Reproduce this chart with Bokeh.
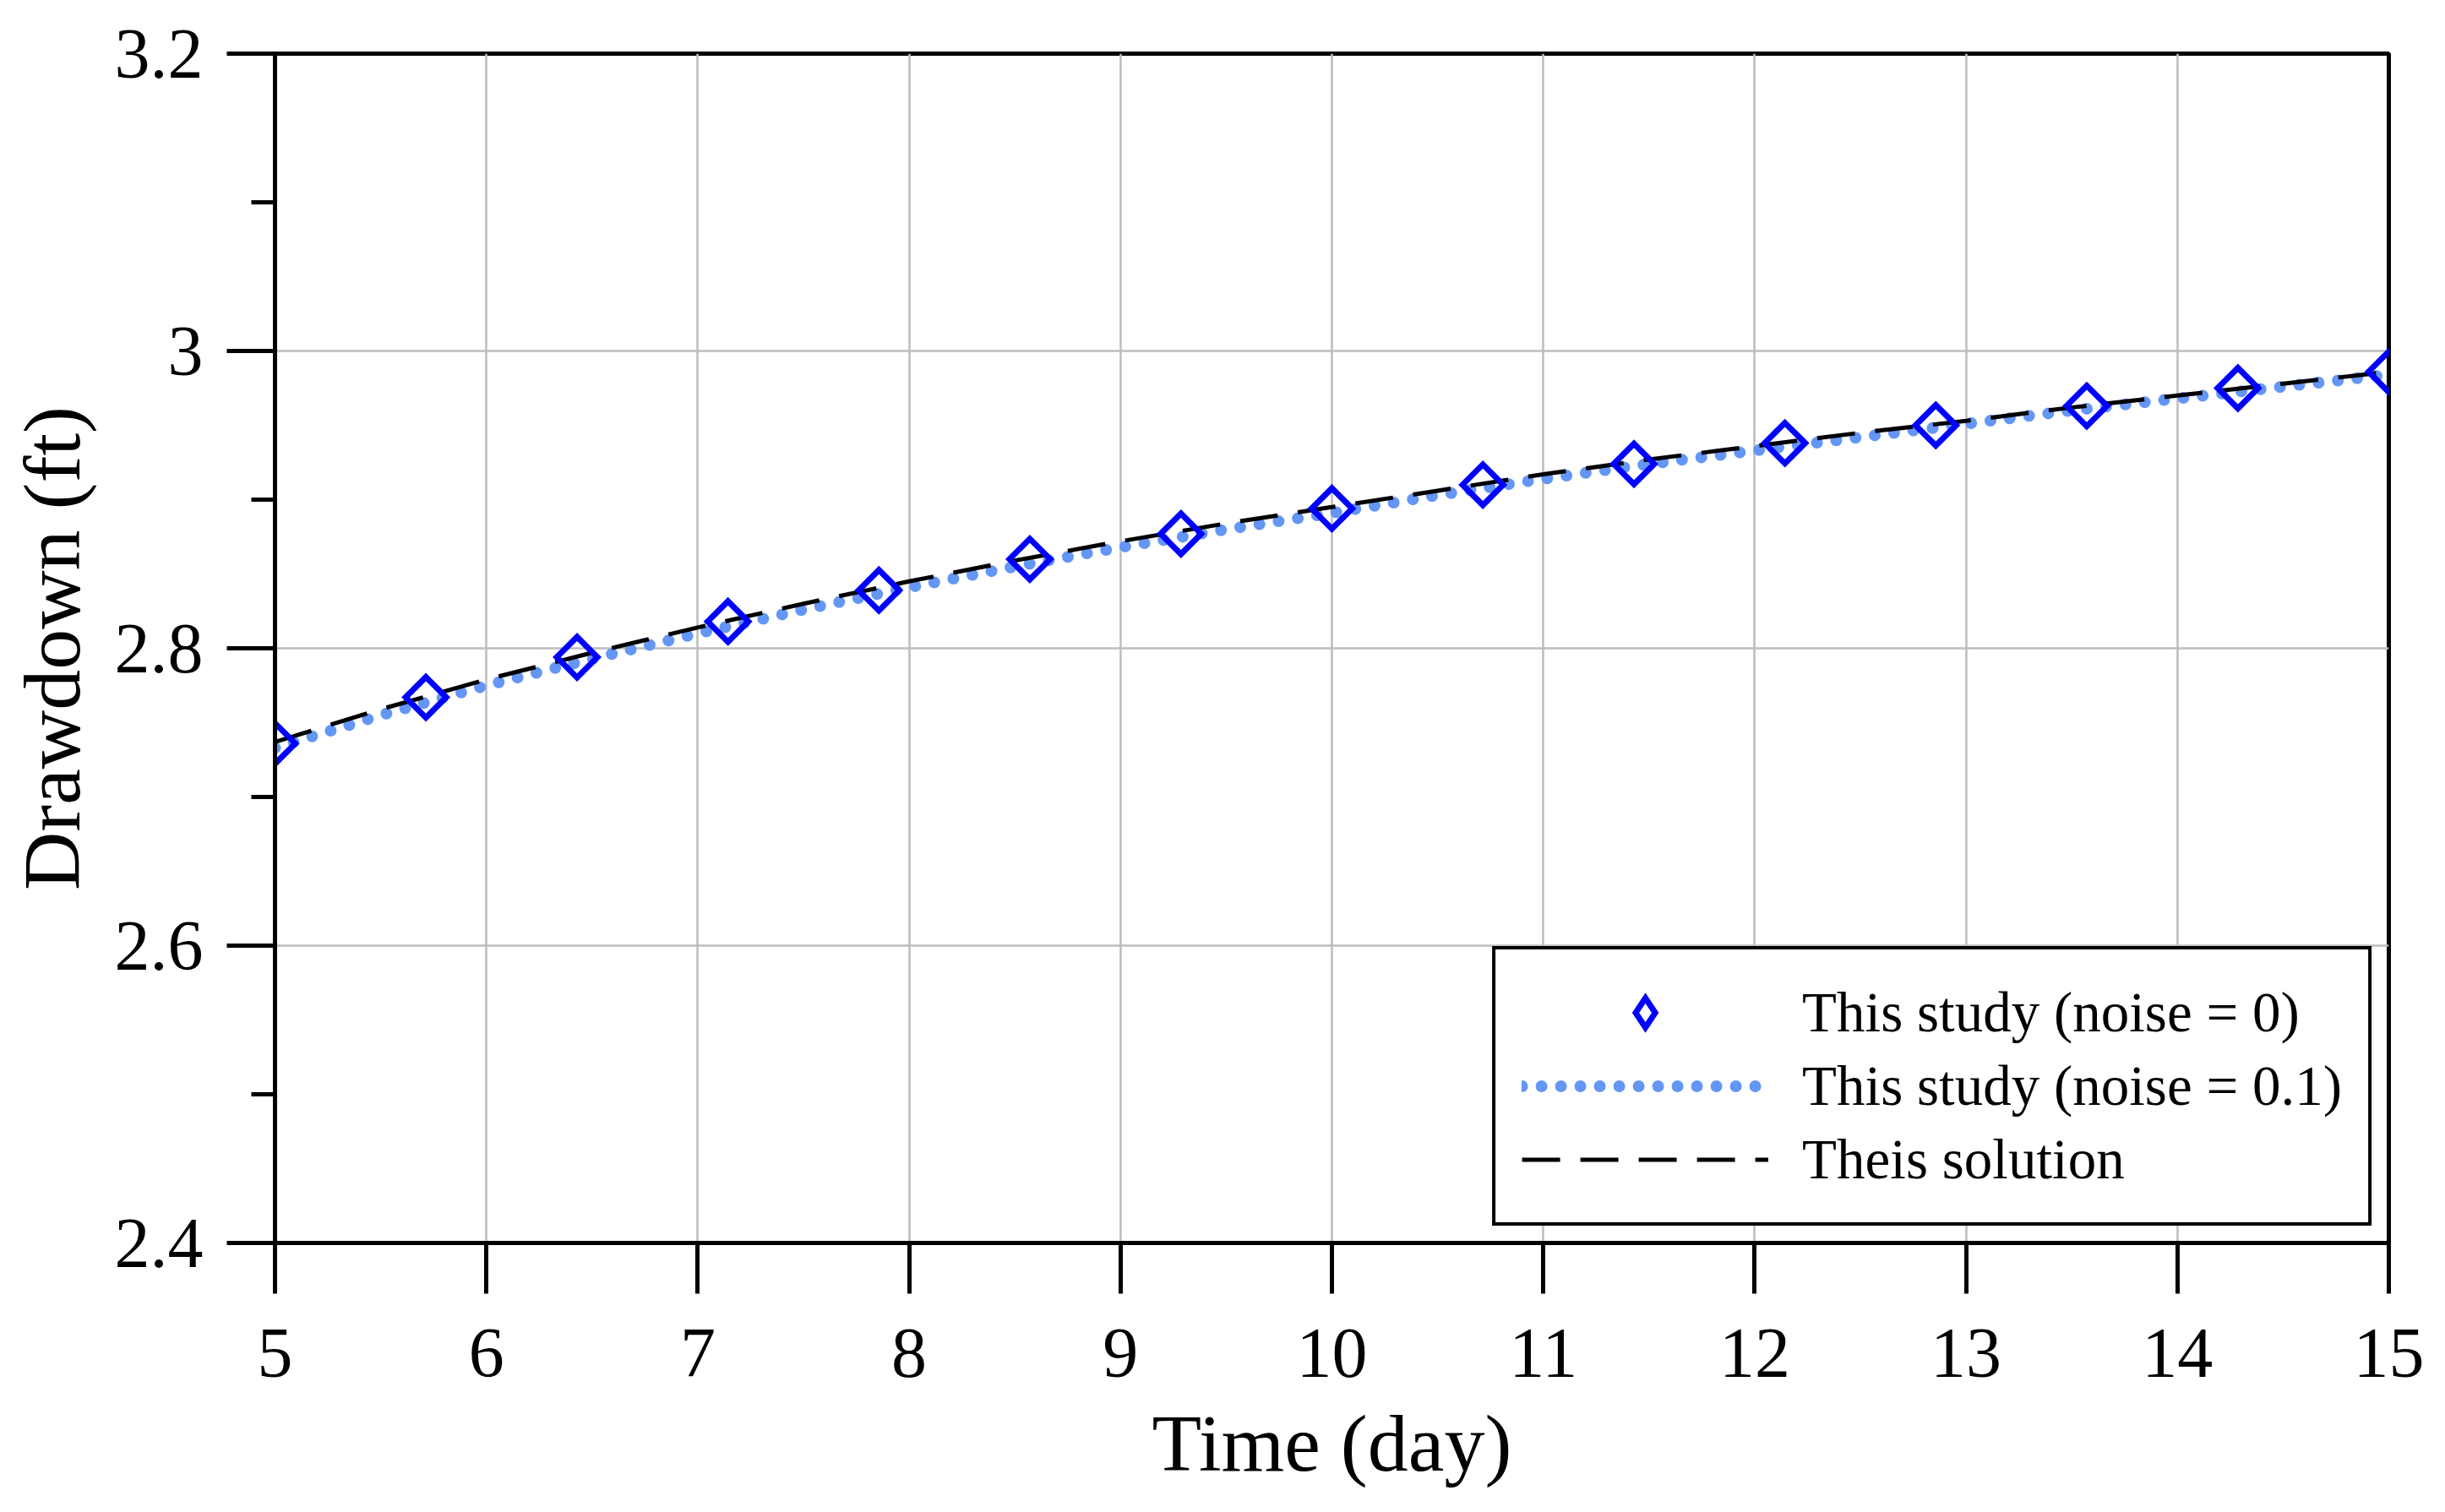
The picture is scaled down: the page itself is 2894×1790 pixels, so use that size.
import numpy as np
from bokeh.plotting import figure
from bokeh.models import Range1d, FixedTicker, Legend, LegendItem
from bokeh.embed import file_html
from bokeh.resources import INLINE

# ---- data ----
study_t = [5.0, 5.714, 6.429, 7.143, 7.857, 8.571, 9.286, 10.0,
           10.714, 11.429, 12.143, 12.857, 13.571, 14.286, 15.0]
study_s = [2.736, 2.767, 2.794, 2.818, 2.839, 2.860, 2.877, 2.894,
           2.910, 2.924, 2.938, 2.950, 2.963, 2.975, 2.986]

line_t = [5.0, 5.5, 6.0, 6.5, 7.0, 7.5, 8.0, 8.5, 9.0, 9.5, 10.0,
          10.5, 11.0, 11.5, 12.0, 12.5, 13.0, 13.5, 14.0, 14.5, 15.0]
noisy_s = [2.733, 2.755, 2.775, 2.793, 2.810, 2.826, 2.841, 2.855, 2.868, 2.880, 2.891,
           2.903, 2.914, 2.924, 2.933, 2.942, 2.951, 2.960, 2.968, 2.976, 2.984]
theis_s = [2.737, 2.759, 2.779, 2.797, 2.814, 2.830, 2.845, 2.859, 2.872, 2.884, 2.895,
           2.906, 2.917, 2.927, 2.936, 2.945, 2.953, 2.962, 2.970, 2.978, 2.986]

x_ticks = [5, 6, 7, 8, 9, 10, 11, 12, 13, 14, 15]
y_ticks = [2.4, 2.6, 2.8, 3.0, 3.2]
y_tick_labels = ["2.4", "2.6", "2.8", "3", "3.2"]
y_minor = [2.5, 2.7, 2.9, 3.1]

labels = ["This study (noise = 0)", "This study (noise = 0.1)", "Theis solution"]

FONT = "Liberation Serif"

p = figure(frame_width=2502, frame_height=1408,
           min_border_left=325, min_border_top=63, min_border_right=51, min_border_bottom=303,
           x_range=Range1d(5, 15), y_range=Range1d(2.4, 3.2),
           output_backend="svg", toolbar_location=None)
p.background_fill_color = "white"
p.border_fill_color = "white"
p.outline_line_color = "black"
p.outline_line_width = 5
p.outline_line_alpha = 1.0

# axes
p.xaxis.ticker = FixedTicker(ticks=x_ticks)
p.yaxis.ticker = FixedTicker(ticks=y_ticks, minor_ticks=y_minor)
p.yaxis.major_label_overrides = {v: s for v, s in zip(y_ticks, y_tick_labels)}
for ax in (p.xaxis, p.yaxis):
    ax.axis_line_color = "black"
    ax.axis_line_width = 5
    ax.major_tick_line_color = "black"
    ax.major_tick_line_width = 5
    ax.major_tick_in = 0
    ax.major_label_text_font = FONT
    ax.major_label_text_font_size = "84px"
    ax.major_label_text_color = "black"
    ax.axis_label_text_font = FONT
    ax.axis_label_text_font_size = "96px"
    ax.axis_label_text_font_style = "normal"
    ax.axis_label_text_color = "black"
p.xaxis.major_tick_out = 60
p.xaxis.minor_tick_line_color = None
p.xaxis.major_label_standoff = 42
p.xaxis.axis_label = "Time (day)"
p.xaxis.axis_label_standoff = 22
p.yaxis.major_tick_out = 57
p.yaxis.minor_tick_out = 28
p.yaxis.minor_tick_in = 0
p.yaxis.minor_tick_line_color = "black"
p.yaxis.minor_tick_line_width = 5
p.yaxis.major_label_standoff = 28
p.yaxis.axis_label = "Drawdown (ft)"
p.yaxis.axis_label_standoff = 18

# grid
p.xgrid.grid_line_color = "#bdbdbd"
p.xgrid.grid_line_width = 2.5
p.ygrid.grid_line_color = "#bdbdbd"
p.ygrid.grid_line_width = 2.5

# series
r_noisy = p.line(line_t, noisy_s, line_color="#6496f5", line_width=14,
                 line_dash="0 23", line_cap="round")
r_theis = p.line(line_t, theis_s, line_color="black", line_width=5,
                 line_dash="45 24")
r_study = p.scatter(study_t, study_s, marker="square", angle=np.pi / 4, size=34,
                    line_color="#0000ff", line_width=7, line_join="miter",
                    fill_color=None)
# legend-only diamond (legend glyphs are never rotated, so use the diamond marker)
r_study_key = p.scatter(study_t, study_s, marker="diamond", size=34,
                        line_color="#0000ff", line_width=7, line_join="miter",
                        fill_color=None, visible=False)

legend = Legend(items=[LegendItem(label=labels[0], renderers=[r_study_key]),
                       LegendItem(label=labels[1], renderers=[r_noisy]),
                       LegendItem(label=labels[2], renderers=[r_theis])],
                location="bottom_right", margin=20,
                padding=31, spacing=0, glyph_width=292, glyph_height=87,
                label_height=87, label_standoff=40,
                label_text_font=FONT, label_text_font_size="67px",
                label_text_color="black",
                border_line_color="black", border_line_width=4, border_line_alpha=1.0,
                background_fill_color="white", background_fill_alpha=1.0)
p.add_layout(legend, "center")

open("out.html", "w").write(file_html(p, INLINE))
